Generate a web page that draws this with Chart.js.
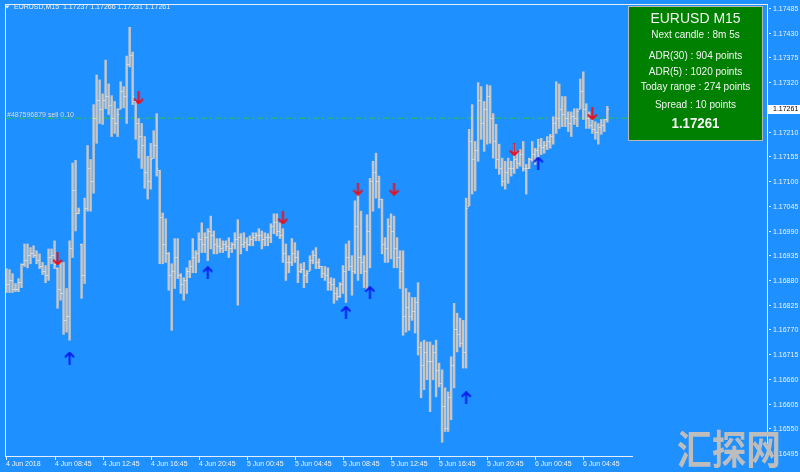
<!DOCTYPE html>
<html>
<head>
<meta charset="utf-8">
<script src="https://cdn.jsdelivr.net/npm/chart.js@4.4.1/dist/chart.umd.min.js"></script>
<style>
  html, body { margin: 0; padding: 0; background: #1E90FF; }
  canvas { display: block; }
</style>
</head>
<body>
<canvas id="chart" width="800" height="472"></canvas>
<script>
// --- Data (201 bars, 4 Jun 04:45 -> 6 Jun 06:45) ---
const symbolTitle = 'EURUSD,M15';
const lastQuote = ['1.17237', '1.17266', '1.17231', '1.17261'];

const timeLabels = ['4 Jun 2018', '4 Jun 08:45', '4 Jun 12:45', '4 Jun 16:45', '4 Jun 20:45',
    '5 Jun 00:45', '5 Jun 04:45', '5 Jun 08:45', '5 Jun 12:45', '5 Jun 16:45', '5 Jun 20:45',
    '6 Jun 00:45', '6 Jun 04:45'];
const timeLabelBars = [0, 16, 32, 48, 64, 80, 96, 112, 128, 144, 160, 176, 192];

const priceTicks = [1.17485, 1.17430, 1.17375, 1.17320, 1.17265, 1.17210, 1.17155, 1.17100,
    1.17045, 1.16990, 1.16935, 1.16880, 1.16825, 1.16770, 1.16715, 1.16660, 1.16605, 1.16550, 1.16495];

const highs = [
    1.16905, 1.16903, 1.16894, 1.16872, 1.16883, 1.16916, 1.16960, 1.16960, 1.16952, 1.16956,
    1.16945, 1.16938, 1.16919, 1.16912, 1.16949, 1.16949, 1.16967, 1.16907, 1.16919, 1.16919,
    1.16861, 1.16967, 1.17140, 1.17146, 1.17040, 1.16960, 1.17062, 1.17179, 1.17148, 1.17270,
    1.17336, 1.17325, 1.17294, 1.17369, 1.17316, 1.17290, 1.17277, 1.17261, 1.17321, 1.17310,
    1.17378, 1.17442, 1.17387, 1.17277, 1.17239, 1.17228, 1.17199, 1.17155, 1.17184, 1.17212,
    1.17250, 1.17124, 1.17029, 1.17016, 1.16941, 1.16916, 1.16972, 1.16972, 1.16894, 1.16885,
    1.16907, 1.16923, 1.16972, 1.16945, 1.16985, 1.17007, 1.16985, 1.16994, 1.17022, 1.16989,
    1.16972, 1.16972, 1.16967, 1.16967, 1.16974, 1.16963, 1.16985, 1.17014, 1.16983, 1.16985,
    1.16974, 1.16978, 1.16985, 1.16985, 1.16994, 1.16989, 1.16985, 1.16983, 1.17005, 1.17027,
    1.17027, 1.17007, 1.16994, 1.16960, 1.16934, 1.16972, 1.16963, 1.16945, 1.16916, 1.16919,
    1.16901, 1.16934, 1.16945, 1.16952, 1.16927, 1.16910, 1.16910, 1.16907, 1.16885, 1.16883,
    1.16863, 1.16874, 1.16912, 1.16960, 1.16967, 1.16934, 1.17056, 1.17073, 1.17033, 1.16934,
    1.17025, 1.17106, 1.17144, 1.17162, 1.17111, 1.17060, 1.16974, 1.17016, 1.17027, 1.17022,
    1.16974, 1.16945, 1.16945, 1.16861, 1.16852, 1.16841, 1.16841, 1.16874, 1.16742, 1.16746,
    1.16742, 1.16742, 1.16735, 1.16746, 1.16695, 1.16680, 1.16640, 1.16631, 1.16709, 1.16828,
    1.16806, 1.16795, 1.16790, 1.17062, 1.17215, 1.17270, 1.17188, 1.17319, 1.17310, 1.17277,
    1.17314, 1.17312, 1.17250, 1.17226, 1.17182, 1.17151, 1.17144, 1.17151, 1.17144, 1.17182,
    1.17166, 1.17170, 1.17188, 1.17137, 1.17151, 1.17188, 1.17173, 1.17193, 1.17195, 1.17188,
    1.17199, 1.17204, 1.17243, 1.17321, 1.17316, 1.17288, 1.17288, 1.17254, 1.17254, 1.17261,
    1.17261, 1.17327, 1.17343, 1.17272, 1.17254, 1.17237, 1.17232, 1.17228, 1.17237, 1.17237,
    1.17266
];
const lows = [
    1.16852, 1.16852, 1.16852, 1.16854, 1.16854, 1.16863, 1.16910, 1.16907, 1.16916, 1.16930,
    1.16916, 1.16905, 1.16892, 1.16874, 1.16879, 1.16916, 1.16905, 1.16817, 1.16835, 1.16759,
    1.16764, 1.16746, 1.16930, 1.16989, 1.17027, 1.16839, 1.16872, 1.17033, 1.17033, 1.17073,
    1.17184, 1.17228, 1.17226, 1.17261, 1.17248, 1.17199, 1.17206, 1.17199, 1.17261, 1.17263,
    1.17228, 1.17354, 1.17270, 1.17193, 1.17151, 1.17128, 1.17084, 1.17060, 1.17082, 1.17151,
    1.17111, 1.16916, 1.16916, 1.16919, 1.16857, 1.16768, 1.16861, 1.16883, 1.16850, 1.16835,
    1.16850, 1.16885, 1.16896, 1.16896, 1.16919, 1.16941, 1.16941, 1.16923, 1.16949, 1.16938,
    1.16938, 1.16941, 1.16941, 1.16945, 1.16930, 1.16941, 1.16949, 1.16824, 1.16938, 1.16952,
    1.16945, 1.16956, 1.16956, 1.16967, 1.16967, 1.16949, 1.16956, 1.16956, 1.16963, 1.16983,
    1.16978, 1.16972, 1.16919, 1.16879, 1.16896, 1.16912, 1.16919, 1.16874, 1.16896, 1.16863,
    1.16874, 1.16901, 1.16916, 1.16905, 1.16905, 1.16885, 1.16879, 1.16857, 1.16857, 1.16828,
    1.16835, 1.16841, 1.16850, 1.16830, 1.16901, 1.16846, 1.16894, 1.16879, 1.16894, 1.16863,
    1.16857, 1.16907, 1.17033, 1.17062, 1.17040, 1.16938, 1.16919, 1.16919, 1.16927, 1.16907,
    1.16907, 1.16861, 1.16757, 1.16764, 1.16768, 1.16790, 1.16762, 1.16713, 1.16618, 1.16636,
    1.16658, 1.16587, 1.16658, 1.16620, 1.16642, 1.16519, 1.16543, 1.16543, 1.16569, 1.16640,
    1.16720, 1.16731, 1.16684, 1.16684, 1.17045, 1.17071, 1.17078, 1.17144, 1.17193, 1.17166,
    1.17182, 1.17184, 1.17151, 1.17128, 1.17115, 1.17089, 1.17082, 1.17095, 1.17111, 1.17117,
    1.17128, 1.17133, 1.17122, 1.17071, 1.17128, 1.17144, 1.17137, 1.17151, 1.17159, 1.17162,
    1.17170, 1.17173, 1.17182, 1.17206, 1.17217, 1.17221, 1.17221, 1.17210, 1.17199, 1.17226,
    1.17221, 1.17261, 1.17237, 1.17217, 1.17217, 1.17206, 1.17193, 1.17182, 1.17204, 1.17210,
    1.17231
];
const opens = [
    1.16880, 1.16870, 1.16880, 1.16860, 1.16860, 1.16875, 1.16915, 1.16925, 1.16935, 1.16940,
    1.16935, 1.16925, 1.16910, 1.16900, 1.16890, 1.16930, 1.16935, 1.16915, 1.16860, 1.16850,
    1.16790, 1.16800, 1.16950, 1.17080, 1.17030, 1.17035, 1.16890, 1.17040, 1.17130, 1.17100,
    1.17240, 1.17280, 1.17260, 1.17280, 1.17290, 1.17270, 1.17240, 1.17230, 1.17250, 1.17300,
    1.17290, 1.17360, 1.17380, 1.17290, 1.17230, 1.17200, 1.17180, 1.17120, 1.17100, 1.17150,
    1.17180, 1.17130, 1.17020, 1.16960, 1.16940, 1.16890, 1.16900, 1.16930, 1.16890, 1.16870,
    1.16880, 1.16900, 1.16910, 1.16930, 1.16940, 1.16970, 1.16960, 1.16975, 1.16990, 1.16980,
    1.16960, 1.16955, 1.16950, 1.16960, 1.16955, 1.16950, 1.16960, 1.16970, 1.16975, 1.16960,
    1.16965, 1.16960, 1.16970, 1.16975, 1.16980, 1.16980, 1.16970, 1.16975, 1.16975, 1.17000,
    1.17010, 1.16990, 1.16980, 1.16940, 1.16920, 1.16920, 1.16940, 1.16930, 1.16900, 1.16905,
    1.16890, 1.16895, 1.16925, 1.16935, 1.16920, 1.16910, 1.16895, 1.16890, 1.16875, 1.16870,
    1.16850, 1.16845, 1.16870, 1.16900, 1.16930, 1.16910, 1.16900, 1.17000, 1.16930, 1.16920,
    1.16900, 1.16990, 1.17100, 1.17120, 1.17100, 1.17060, 1.16960, 1.16950, 1.17000, 1.16990,
    1.16950, 1.16930, 1.16900, 1.16800, 1.16820, 1.16800, 1.16810, 1.16830, 1.16730, 1.16690,
    1.16720, 1.16700, 1.16700, 1.16720, 1.16680, 1.16650, 1.16600, 1.16550, 1.16620, 1.16690,
    1.16770, 1.16760, 1.16740, 1.16720, 1.17040, 1.17190, 1.17150, 1.17170, 1.17280, 1.17230,
    1.17260, 1.17290, 1.17240, 1.17190, 1.17150, 1.17130, 1.17100, 1.17120, 1.17130, 1.17130,
    1.17150, 1.17140, 1.17160, 1.17130, 1.17130, 1.17150, 1.17160, 1.17170, 1.17180, 1.17175,
    1.17180, 1.17190, 1.17200, 1.17230, 1.17240, 1.17260, 1.17250, 1.17240, 1.17230, 1.17245,
    1.17240, 1.17255, 1.17300, 1.17260, 1.17240, 1.17225, 1.17215, 1.17210, 1.17220, 1.17225,
    1.17237
];
const closes = [
    1.16870, 1.16880, 1.16860, 1.16860, 1.16875, 1.16915, 1.16925, 1.16935, 1.16940, 1.16935,
    1.16925, 1.16910, 1.16900, 1.16890, 1.16930, 1.16935, 1.16915, 1.16860, 1.16850, 1.16790,
    1.16800, 1.16950, 1.17080, 1.17030, 1.17035, 1.16890, 1.17040, 1.17130, 1.17100, 1.17240,
    1.17280, 1.17260, 1.17280, 1.17290, 1.17270, 1.17240, 1.17230, 1.17250, 1.17300, 1.17290,
    1.17360, 1.17380, 1.17290, 1.17230, 1.17200, 1.17180, 1.17120, 1.17100, 1.17150, 1.17180,
    1.17130, 1.17020, 1.16960, 1.16940, 1.16890, 1.16900, 1.16930, 1.16890, 1.16870, 1.16880,
    1.16900, 1.16910, 1.16930, 1.16940, 1.16970, 1.16960, 1.16975, 1.16990, 1.16980, 1.16960,
    1.16955, 1.16950, 1.16960, 1.16955, 1.16950, 1.16960, 1.16970, 1.16975, 1.16960, 1.16965,
    1.16960, 1.16970, 1.16975, 1.16980, 1.16980, 1.16970, 1.16975, 1.16975, 1.17000, 1.17010,
    1.16990, 1.16980, 1.16940, 1.16920, 1.16920, 1.16940, 1.16930, 1.16900, 1.16905, 1.16890,
    1.16895, 1.16925, 1.16935, 1.16920, 1.16910, 1.16895, 1.16890, 1.16875, 1.16870, 1.16850,
    1.16845, 1.16870, 1.16900, 1.16930, 1.16910, 1.16900, 1.17000, 1.16930, 1.16920, 1.16900,
    1.16990, 1.17100, 1.17120, 1.17100, 1.17060, 1.16960, 1.16950, 1.17000, 1.16990, 1.16950,
    1.16930, 1.16900, 1.16800, 1.16820, 1.16800, 1.16810, 1.16830, 1.16730, 1.16690, 1.16720,
    1.16700, 1.16700, 1.16720, 1.16680, 1.16650, 1.16600, 1.16550, 1.16620, 1.16690, 1.16770,
    1.16760, 1.16740, 1.16720, 1.17040, 1.17190, 1.17150, 1.17170, 1.17280, 1.17230, 1.17260,
    1.17290, 1.17240, 1.17190, 1.17150, 1.17130, 1.17100, 1.17120, 1.17130, 1.17130, 1.17150,
    1.17140, 1.17160, 1.17130, 1.17130, 1.17150, 1.17160, 1.17170, 1.17180, 1.17175, 1.17180,
    1.17190, 1.17200, 1.17230, 1.17240, 1.17260, 1.17250, 1.17240, 1.17230, 1.17245, 1.17240,
    1.17255, 1.17300, 1.17260, 1.17240, 1.17225, 1.17215, 1.17210, 1.17220, 1.17225, 1.17237,
    1.17261
];

// signal arrows: bar index + price where the arrow sits
const sellArrowBars = [17, 44, 92, 117, 129, 169, 195];
const sellArrowPrices = [1.16927, 1.17285, 1.17018, 1.17082, 1.17082, 1.17170, 1.17250];
const buyArrowBars = [21, 67, 113, 121, 153, 177];
const buyArrowPrices = [1.16706, 1.16896, 1.16808, 1.16852, 1.16618, 1.17140];

const orderPrice = 1.17240;
const orderLabel = '#487596879 sell 0.10';
const currentPrice = 1.17261;

const infoTitle = 'EURUSD M15';
const infoLines = ['Next candle : 8m 5s', 'ADR(30) : 904 points', 'ADR(5) : 1020 points',
    'Today range : 274 points', 'Spread : 10 points'];
const infoPrice = '1.17261';

const watermark = '汇探网';

// Colors
const bgColor = '#1E90FF';
const barColor = '#C6C6C6';
const tickColor = '#DADADA';
const frameColor = '#E6EEF8';
const textColor = '#F2F2F2';
const orderColor = '#34C23A';
const sellColor = '#E8101E';
const buyColor = '#0A1EEE';
const fontFamily = "'Liberation Sans', Arial, sans-serif";

const makeArrow = (color, up) => {
    const c = document.createElement('canvas');
    c.width = 11; c.height = 13;
    const g = c.getContext('2d');
    g.strokeStyle = color;
    g.lineWidth = 2;
    g.beginPath();
    if (up) {
        g.moveTo(5.5, 1); g.lineTo(5.5, 13);
        g.moveTo(1, 5.5); g.lineTo(5.5, 1); g.lineTo(10, 5.5);
    } else {
        g.moveTo(5.5, 0); g.lineTo(5.5, 12);
        g.moveTo(1, 7.5); g.lineTo(5.5, 12); g.lineTo(10, 7.5);
    }
    g.stroke();
    return c;
};

const mt4Decor = {
    id: 'mt4Decor',
    beforeDraw(chart) {
        const { ctx, width, height } = chart;
        ctx.save();
        ctx.fillStyle = bgColor;
        ctx.fillRect(0, 0, width, height);
        ctx.restore();
    },
    afterDatasetsDraw(chart) {
        // open / close ticks of each bar
        const { ctx, scales: { x, y } } = chart;
        ctx.save();
        ctx.strokeStyle = tickColor;
        ctx.lineWidth = 1;
        ctx.beginPath();
        highs.forEach((h, i) => {
            const px = x.getPixelForValue(i);
            const o = Math.min(h, Math.max(lows[i], opens[i]));
            const c = Math.min(h, Math.max(lows[i], closes[i]));
            const yo = Math.round(y.getPixelForValue(o)) + 0.5;
            const yc = Math.round(y.getPixelForValue(c)) + 0.5;
            ctx.moveTo(px - 1.5, yo); ctx.lineTo(px, yo);
            ctx.moveTo(px, yc); ctx.lineTo(px + 1.5, yc);
        });
        ctx.stroke();
        ctx.restore();
    },
    afterDraw(chart) {
        const { ctx, chartArea: a, scales: { x, y } } = chart;
        ctx.save();

        // frame
        ctx.strokeStyle = frameColor;
        ctx.lineWidth = 1;
        ctx.strokeRect(a.left + 0.5, a.top - 0.5, a.right - a.left, a.bottom - a.top + 1);

        // price axis
        ctx.font = `7px ${fontFamily}`;
        ctx.fillStyle = textColor;
        ctx.textBaseline = 'middle';
        ctx.textAlign = 'left';
        priceTicks.forEach(p => {
            const py = Math.round(y.getPixelForValue(p)) + 0.5;
            ctx.beginPath();
            ctx.moveTo(a.right + 2, py); ctx.lineTo(a.right + 4, py);
            ctx.stroke();
            ctx.fillText(p.toFixed(5), a.right + 6, py + 0.5);
        });

        // time axis
        ctx.textBaseline = 'alphabetic';
        timeLabelBars.forEach((b, k) => {
            const px = Math.round(x.getPixelForValue(b)) + 0.5;
            ctx.beginPath();
            ctx.moveTo(px, a.bottom + 1); ctx.lineTo(px, a.bottom + 4);
            ctx.stroke();
            ctx.fillText(timeLabels[k], px - 0.5, a.bottom + 10);
        });

        // title
        ctx.beginPath();
        ctx.moveTo(5, 5.5); ctx.lineTo(9.5, 5.5); ctx.lineTo(7.25, 8.5);
        ctx.closePath();
        ctx.fill();
        ctx.font = `7px ${fontFamily}`;
        ctx.textBaseline = 'middle';
        ctx.fillText(symbolTitle + '  ' + lastQuote.join(' '), 14, 7.5);

        // order line label
        const oy = y.getPixelForValue(orderPrice);
        ctx.fillStyle = '#DCDCDC';
        ctx.textBaseline = 'alphabetic';
        ctx.fillText(orderLabel, 7, oy - 1);

        // current price box
        const cy = Math.round(y.getPixelForValue(currentPrice));
        ctx.fillStyle = '#FFFFFF';
        ctx.fillRect(a.right + 1, cy - 4, 800 - a.right, 9);
        ctx.fillStyle = '#000000';
        ctx.textBaseline = 'middle';
        ctx.fillText(currentPrice.toFixed(5), a.right + 6, cy + 0.5);

        // info box
        ctx.fillStyle = '#008000';
        ctx.fillRect(628, 6, 135, 135);
        ctx.strokeStyle = '#B8B8B8';
        ctx.strokeRect(628.5, 6.5, 134, 134);
        const cx = 695.5;
        ctx.textAlign = 'center';
        ctx.fillStyle = '#F4F4F4';
        ctx.font = `14px ${fontFamily}`;
        ctx.fillText(infoTitle, cx, 19.5, 92);
        ctx.font = `10px ${fontFamily}`;
        const lineY = [35.5, 56.5, 72, 87.5, 105.5];
        infoLines.forEach((t, i) => ctx.fillText(t, cx, lineY[i], 112));
        ctx.font = `bold 15px ${fontFamily}`;
        ctx.fillText(infoPrice, cx, 124, 48);

        // watermark
        ctx.fillStyle = bgColor;
        ctx.fillRect(633, 444, a.right - 633 + 1, 28);
        ctx.fillStyle = '#BDBDBD';
        ctx.font = "bold 40px 'Noto Sans CJK SC', sans-serif";
        ctx.textAlign = 'left';
        ctx.fillText(watermark, 677, 449, 104);

        ctx.restore();
    }
};

const barData = highs.map((h, i) => ({ x: i, y: [lows[i], h] }));

new Chart(document.getElementById('chart'), {
    type: 'bar',
    data: {
        datasets: [
            {
                type: 'scatter',
                data: sellArrowBars.map((b, i) => ({ x: b, y: sellArrowPrices[i] })),
                pointStyle: makeArrow(sellColor, false),
                order: 1
            },
            {
                type: 'scatter',
                data: buyArrowBars.map((b, i) => ({ x: b, y: buyArrowPrices[i] })),
                pointStyle: makeArrow(buyColor, true),
                order: 1
            },
            {
                type: 'bar',
                data: barData,
                backgroundColor: barColor,
                barThickness: 1.8,
                grouped: false,
                order: 2
            },
            {
                type: 'line',
                data: [{ x: -0.5, y: orderPrice }, { x: 253.2, y: orderPrice }],
                borderColor: orderColor,
                borderWidth: 1,
                borderDash: [6, 3, 2, 3],
                pointRadius: 0,
                order: 3
            }
        ]
    },
    options: {
        responsive: false,
        animation: false,
        devicePixelRatio: 1,
        events: [],
        layout: { padding: { left: 1, top: 2, right: 33, bottom: 16 } },
        plugins: { legend: { display: false }, tooltip: { enabled: false } },
        scales: {
            x: { type: 'linear', min: -0.497, max: 253.15, offset: false, display: false },
            y: { type: 'linear', min: 1.164884, max: 1.174916, display: false }
        }
    },
    plugins: [mt4Decor]
});
</script>
</body>
</html>
